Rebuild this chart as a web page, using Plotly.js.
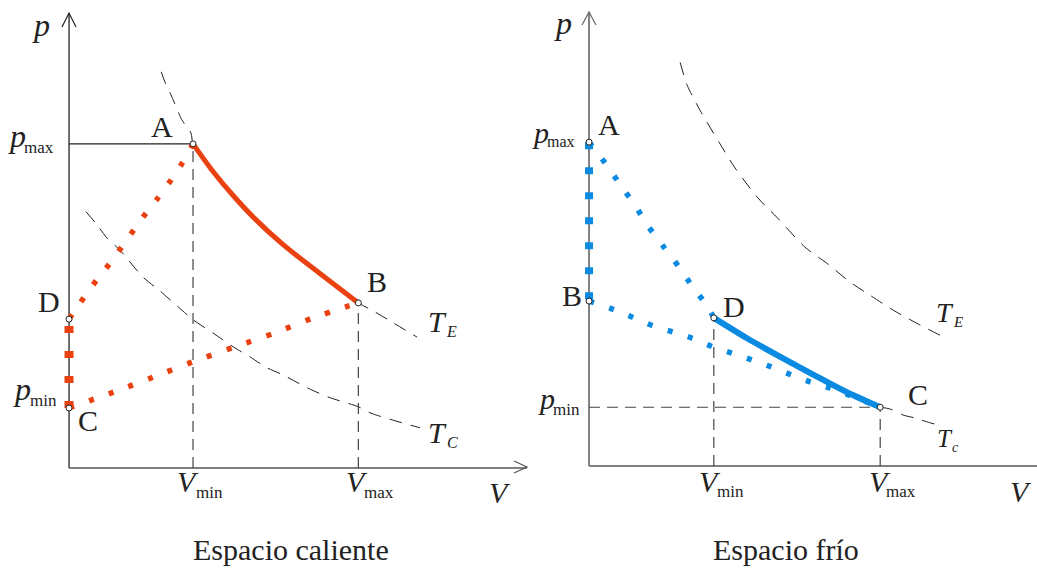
<!DOCTYPE html>
<html>
<head>
<meta charset="utf-8">
<script src="https://cdn.plot.ly/plotly-3.0.1.min.js"></script>
<style>
  html, body { margin: 0; padding: 0; background: #fff; }
  #chart { width: 1037px; height: 571px; }
</style>
</head>
<body>
<div id="chart"></div>
<script>
// ---- Espacio caliente (hot space) ----
const hotStateV = [3.0, 7.0, 0.0, 0.0];      // A, B, C, D
const hotStateP = [5.4, 2.75, 1.0, 2.48];
const hotVmin = 3.0, hotVmax = 7.0, hotPmax = 5.4;

// A -> B expansion (solid)
const hotABV = [3.0, 3.45, 3.97, 4.5, 5.18, 6.07, 7.0];
const hotABP = [5.4, 4.97, 4.54, 4.15, 3.72, 3.24, 2.75];
// D -> A (dotted)
const hotDAV = [0, 0.27, 0.58, 0.9, 1.19, 1.5, 1.79, 2.13, 2.42, 2.73, 3.0];
const hotDAP = [2.48, 2.75, 3.05, 3.33, 3.6, 3.9, 4.18, 4.48, 4.75, 5.07, 5.4];
// C -> B (dotted)
const hotCBV = [0, 1.1, 2.06, 3.0, 4.02, 4.98, 5.9, 7.0];
const hotCBP = [1.0, 1.27, 1.52, 1.77, 2.02, 2.25, 2.5, 2.75];
// C -> D along the pressure axis
const hotCDV = [0, 0];
const hotCDP = [1.0, 2.48];
// isotherms
const hotTEV = [2.23, 2.32, 2.49, 2.73, 2.95, 3.0, 3.45, 3.97, 4.5, 5.18, 6.07, 7.0, 7.33, 7.72, 8.42];
const hotTEP = [6.6, 6.43, 6.18, 5.8, 5.58, 5.4, 4.97, 4.54, 4.15, 3.72, 3.24, 2.75, 2.63, 2.47, 2.18];
const hotTCV = [0.41, 0.68, 0.92, 1.23, 1.79, 2.2, 2.73, 3.0, 3.48, 3.97, 4.38, 4.79, 5.18, 5.78, 6.32, 7.0, 7.28, 7.82, 8.49];
const hotTCP = [4.27, 4.05, 3.83, 3.63, 3.18, 2.95, 2.63, 2.47, 2.25, 2.02, 1.85, 1.67, 1.55, 1.33, 1.17, 1.02, 0.92, 0.8, 0.67];

// ---- Espacio frío (cold space) ----
const coldStateV = [0.0, 0.0, 7.0, 3.0];     // A, B, C, D
const coldStateP = [5.4, 2.75, 0.98, 2.47];
const coldVmin = 3.0, coldVmax = 7.0, coldPmin = 0.98;

// D -> C expansion (solid)
const coldDCV = [3.0, 3.8, 4.6, 5.4, 6.2, 7.0];
const coldDCP = [2.47, 2.13, 1.82, 1.52, 1.23, 0.98];
// A -> D (dotted)
const coldADV = [0, 0.41, 0.77, 1.1, 1.44, 1.8, 2.16, 2.5, 2.86, 3.0];
const coldADP = [5.4, 5.03, 4.67, 4.35, 3.98, 3.65, 3.32, 2.98, 2.65, 2.47];
// B -> C (dotted)
const coldBCV = [0, 0.63, 1.08, 1.56, 2.04, 2.52, 3.0, 3.49, 3.99, 4.47, 4.93, 5.41, 5.89, 6.37, 7.0];
const coldBCP = [2.75, 2.6, 2.47, 2.33, 2.23, 2.12, 1.98, 1.87, 1.75, 1.63, 1.5, 1.38, 1.28, 1.15, 0.98];
// A -> B along the pressure axis
const coldABV = [0, 0];
const coldABP = [5.4, 2.75];
// isotherms
const coldTEV = [2.19, 2.36, 2.67, 3.15, 3.51, 4.06, 4.54, 5.19, 5.72, 6.27, 6.75, 7.31, 7.88, 8.44];
const coldTEP = [6.73, 6.35, 5.93, 5.37, 4.97, 4.47, 4.13, 3.65, 3.38, 3.07, 2.85, 2.6, 2.38, 2.18];
const coldTCV = [7.0, 7.24, 7.55, 7.84, 8.2, 8.49];
const coldTCP = [0.98, 0.95, 0.85, 0.8, 0.72, 0.67];

// ---- styling ----
const RED = '#ea4110';
const BLUE = '#0b8ae2';
const INK = '#222222';
const FONT = 'Liberation Serif, Times New Roman, serif';
const W = 1037, H = 571;
const px = x => x / W;
const py = y => 1 - y / H;

function line(xa, ya, V, p, color, width, dash) {
  return {
    type: 'scatter', mode: 'lines', x: V, y: p, xaxis: xa, yaxis: ya,
    line: { color: color, width: width, dash: dash || 'solid', shape: 'spline', smoothing: 0.8 },
    hoverinfo: 'skip', showlegend: false
  };
}
function states(xa, ya, V, p) {
  return {
    type: 'scatter', mode: 'markers', x: V, y: p, xaxis: xa, yaxis: ya,
    marker: { symbol: 'circle', size: 6, color: '#fff', line: { color: INK, width: 1 } },
    hoverinfo: 'skip', showlegend: false
  };
}

const ISO_DASH = '13px,9px';
const GUIDE_DASH = '11px,7px';
const DOT_DASH = '5px,16px';
const AXIS_DASH = '7px,18px';

const traces = [
  // hot space
  line('x', 'y', hotTEV, hotTEP, INK, 1, ISO_DASH),
  line('x', 'y', hotTCV, hotTCP, INK, 1, ISO_DASH),
  line('x', 'y', [0, hotVmin], [hotPmax, hotPmax], INK, 1.2),
  line('x', 'y', [hotVmin, hotVmin], [0, hotPmax], '#444', 1.2, GUIDE_DASH),
  line('x', 'y', [hotVmax, hotVmax], [0, hotStateP[1]], '#444', 1.2, GUIDE_DASH),
  line('x', 'y', hotDAV, hotDAP, RED, 5.5, DOT_DASH),
  line('x', 'y', hotCBV, hotCBP, RED, 5.5, DOT_DASH),
  line('x', 'y', hotCDV, hotCDP, RED, 9, AXIS_DASH),
  line('x', 'y', hotABV, hotABP, RED, 5),
  states('x', 'y', hotStateV, hotStateP),
  // cold space
  line('x2', 'y2', coldTEV, coldTEP, INK, 1, ISO_DASH),
  line('x2', 'y2', coldTCV, coldTCP, INK, 1, ISO_DASH),
  line('x2', 'y2', [0, coldVmax], [coldPmin, coldPmin], '#444', 1.2, GUIDE_DASH),
  line('x2', 'y2', [coldVmin, coldVmin], [0, coldStateP[3]], '#444', 1.2, GUIDE_DASH),
  line('x2', 'y2', [coldVmax, coldVmax], [0, coldPmin], '#444', 1.2, GUIDE_DASH),
  line('x2', 'y2', coldADV, coldADP, BLUE, 5.5, DOT_DASH),
  line('x2', 'y2', coldBCV, coldBCP, BLUE, 5.5, DOT_DASH),
  line('x2', 'y2', coldABV, coldABP, BLUE, 8, AXIS_DASH),
  line('x2', 'y2', coldDCV, coldDCP, BLUE, 6),
  states('x2', 'y2', coldStateV, coldStateP)
];

// text placed by glyph centre (x) and baseline (y), in pixels
function label(text, cx, baseline, size, italic) {
  return {
    text: italic ? '<i>' + text + '</i>' : text,
    x: px(cx), y: py(baseline - 0.34 * size),
    xref: 'paper', yref: 'paper', xanchor: 'center', yanchor: 'middle',
    showarrow: false, font: { family: FONT, size: size, color: INK }
  };
}

const annotations = [
  // hot space
  label('p', 41, 36, 32, true),
  label('p', 17, 147, 32, true), label('max', 39, 153, 17, false),
  label('p', 22, 400, 32, true), label('min', 43, 406, 17, false),
  label('A', 162, 137, 30, false),
  label('B', 377, 292, 30, false),
  label('C', 88, 431, 30, false),
  label('D', 49, 312, 30, false),
  label('T', 437, 332, 30, true), label('E', 451, 337, 16, true),
  label('T', 437, 443, 30, true), label('C', 452, 448, 16, true),
  label('V', 188, 492, 30, true), label('min', 209, 498, 17, false),
  label('V', 357, 492, 30, true), label('max', 379, 498, 17, false),
  label('V', 500, 503, 30, true),
  label('Espacio caliente', 291, 560, 30, false),
  // cold space
  label('p', 563, 34, 32, true),
  label('p', 540, 143, 30, true), label('max', 561, 147, 16, false),
  label('p', 546, 409, 30, true), label('min', 566, 415, 17, false),
  label('A', 609, 135, 30, false),
  label('B', 572, 306, 30, false),
  label('C', 918, 405, 30, false),
  label('D', 734, 317, 30, false),
  label('T', 945, 322, 28, true), label('E', 958, 327, 15, true),
  label('T', 945, 447, 25, true), label('c', 955, 452, 14, true),
  label('V', 710, 492, 30, true), label('min', 730, 497, 17, false),
  label('V', 880, 492, 30, true), label('max', 901, 497, 17, false),
  label('V', 1021, 502, 30, true),
  label('Espacio frío', 786, 560, 30, false)
];

// axis lines (drawn in axis units from the origin) and open arrowheads
function axisLine(xref, yref, x1, y1, color, width) {
  return {
    type: 'line', xref: xref, yref: yref, x0: 0, y0: 0, x1: x1, y1: y1,
    line: { color: color, width: width }, layer: 'below'
  };
}
function chevron(x1, y1, tx, ty, x2, y2, color, width) {
  return {
    type: 'path', xref: 'paper', yref: 'paper',
    path: 'M ' + px(x1) + ' ' + py(y1) + ' L ' + px(tx) + ' ' + py(ty) + ' L ' + px(x2) + ' ' + py(y2),
    line: { color: color, width: width }
  };
}

const X1MAX = 11.08, Y1MAX = 7.58, X2MAX = 10.77, Y2MAX = 7.57;
const shapes = [
  axisLine('x', 'y', 0, Y1MAX, INK, 1.3),
  axisLine('x', 'y', X1MAX, 0, '#555', 1.6),
  axisLine('x2', 'y2', 0, Y2MAX, '#808080', 2),
  axisLine('x2', 'y2', X2MAX, 0, '#808080', 2.2),
  chevron(62, 27, 69, 13, 76, 27, INK, 1.2),
  chevron(514, 461, 527, 467, 514, 473, '#555', 1.2),
  chevron(582, 25, 589, 12, 596, 25, '#666', 1.2)
];

function axis(domain, range) {
  return {
    domain: domain, range: range, showline: false,
    showgrid: false, zeroline: false, showticklabels: false, ticks: '', fixedrange: true
  };
}

// a small margin below/left of the origin keeps marks on the axes unclipped
const layout = {
  width: W, height: H,
  margin: { l: 0, r: 0, t: 0, b: 0 },
  paper_bgcolor: '#fff', plot_bgcolor: 'rgba(0,0,0,0)',
  showlegend: false,
  xaxis:  Object.assign(axis([px(52.5), px(527)], [-0.4, X1MAX]), { anchor: 'y' }),
  yaxis:  Object.assign(axis([py(480), py(13)], [-0.2, Y1MAX]), { anchor: 'x' }),
  xaxis2: Object.assign(axis([px(572.4), 1], [-0.4, X2MAX]), { anchor: 'y2' }),
  yaxis2: Object.assign(axis([py(478), py(12)], [-0.2, Y2MAX]), { anchor: 'x2' }),
  annotations: annotations,
  shapes: shapes
};

Plotly.newPlot('chart', traces, layout, { displayModeBar: false, staticPlot: true });
</script>
</body>
</html>
